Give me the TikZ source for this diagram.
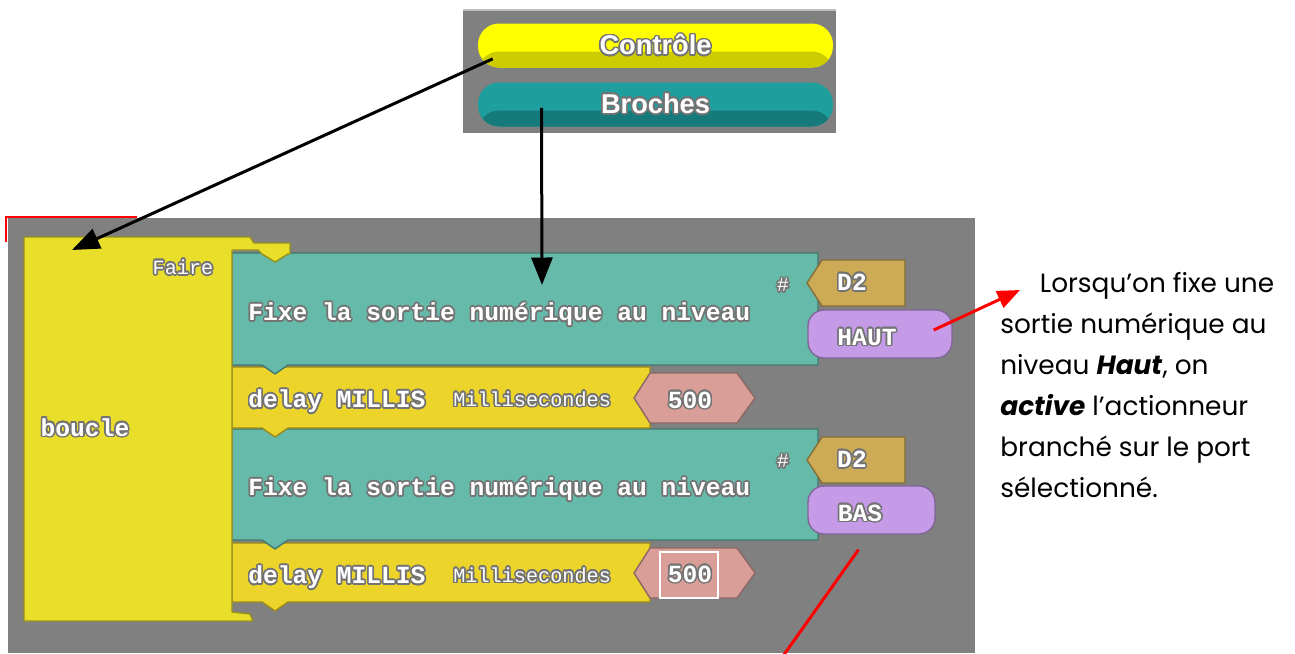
\documentclass[tikz,border=0pt]{standalone}
\usepackage{fontspec}
\usepackage{contour}
\usetikzlibrary{arrows.meta,calc}
\newfontfamily\blockfont{Liberation Mono}
\newfontfamily\palfont{Liberation Sans}
\newfontfamily\notefont{Poppins}
\contourlength{0.9pt}
\newcommand{\blktxt}[1]{\contour{black!55}{#1}}
\definecolor{wsgray}{RGB}{128,128,128}
\definecolor{ctrlyel}{RGB}{255,255,0}
\definecolor{ctrlyeldk}{RGB}{204,204,0}
\definecolor{pinteal}{RGB}{31,158,158}
\definecolor{pintealdk}{RGB}{23,122,122}
\definecolor{loopyel}{RGB}{233,223,43}
\definecolor{delayyel}{RGB}{236,212,42}
\definecolor{setteal}{RGB}{102,186,170}
\definecolor{pinbrown}{RGB}{205,170,86}
\definecolor{lvlpurple}{RGB}{197,155,232}
\definecolor{numpink}{RGB}{217,158,152}

\begin{document}
\begin{tikzpicture}[x=0.02cm,y=-0.02cm,
  blk/.style={fill=#1, draw=#1!65!black, line width=0.8pt, line join=round},
  pill/.style={minimum width=7.1cm, minimum height=0.88cm, rounded corners=0.42cm, inner sep=0pt, text=white,
    font=\palfont\bfseries\fontsize{15.5}{15.5}\selectfont,
    path picture={\fill[#1] ([yshift=-0.12cm]path picture bounding box.west) rectangle (path picture bounding box.south east);}},
  lvl/.style={blk=lvlpurple, rounded corners=0.32cm, minimum height=0.96cm, inner sep=0pt},
  lbl/.style={inner sep=0pt, text=white, font=\blockfont\bfseries\fontsize{14}{14}\selectfont},
  smalllbl/.style={inner sep=0pt, text=white, font=\blockfont\fontsize{11.5}{11.5}\selectfont},
  blkarrow/.style={-{Triangle[length=0.55cm,width=0.42cm]}, line width=0.06cm},
  redline/.style={red, line width=0.06cm},
  note/.style={inner sep=0pt, align=left, font=\notefont\fontsize{15}{23.3}\selectfont}]
  \useasboundingbox (0,0) rectangle (1295,653);
  \fill[white] (0,0) rectangle (1295,653);
  % palette
  \fill[wsgray] (463,10) rectangle (836,133);
  \draw[black!25, line width=0.6pt] (463,10) -- (836,10);
  \node[pill=ctrlyeldk, fill=ctrlyel] (controle) at (655.5,45.5) {\blktxt{Contrôle}};
  \node[pill=pintealdk, fill=pinteal] (broches) at (655.5,104.5) {\blktxt{Broches}};
  % workspace
  \fill[wsgray] (8,218) rectangle (975,653);
  \draw[red, line width=0.04cm] (6,242) -- (6,217) -- (137,217);
  \filldraw[blk=delayyel] (232,543) -- (650,543) -- (650,602) -- (288,602) -- (275,611) -- (262,602) -- (232,602) -- cycle;
  \filldraw[blk=numpink] (650,548) -- (737,548) -- (755,573) -- (737,598) -- (650,598) -- (634,573) -- cycle;
  \draw[white, line width=0.8pt] (660,552) rectangle (718,598);
  \filldraw[blk=setteal] (232,429) -- (818,429) -- (818,540) -- (288,540) -- (275,549) -- (262,540) -- (232,540) -- cycle;
  \filldraw[blk=pinbrown] (822,437) -- (905,437) -- (905,483) -- (822,483) -- (807,460) -- cycle;
  \node[lvl, minimum width=2.54cm] (baspill) at (871.5,510) {};
  \filldraw[blk=delayyel] (232,367) -- (650,367) -- (650,428) -- (288,428) -- (275,437) -- (262,428) -- (232,428) -- cycle;
  \filldraw[blk=numpink] (650,373) -- (737,373) -- (755,398) -- (737,423) -- (650,423) -- (634,398) -- cycle;
  \filldraw[blk=setteal] (232,253) -- (818,253) -- (818,365) -- (288,365) -- (275,374) -- (262,365) -- (232,365) -- cycle;
  \filldraw[blk=pinbrown] (822,260) -- (905,260) -- (905,306) -- (822,306) -- (807,283) -- cycle;
  \node[lvl, minimum width=2.88cm] (hautpill) at (880,334) {};
  \filldraw[blk=loopyel] (24,237) -- (250,237) -- (254,243) -- (290,243) -- (290,254) -- (288,254) -- (275,262) -- (262,254)
    -- (258,250) -- (232,250) -- (232,612) -- (250,614) -- (253,621) -- (24,621) -- cycle;
  % block texts
  \node[smalllbl] (faire) at (183,268) {\blktxt{Faire}};
  \node[lbl] (boucle) at (85,428) {\blktxt{boucle}};
  \node[lbl, anchor=west] (fixehaut) at (248,315) {\blktxt{Fixe la sortie numérique au niveau}};
  \node[smalllbl] (diesehaut) at (783,286) {\blktxt{\#}};
  \node[lbl] (pinhaut) at (852,283) {\blktxt{D2}};
  \node[lbl] (haut) at (867,338) {\blktxt{HAUT}};
  \node[lbl, anchor=west] (delayhaut) at (248,402) {\blktxt{delay MILLIS}};
  \node[smalllbl, anchor=west] (mshaut) at (453,400) {\blktxt{Millisecondes}};
  \node[lbl] (numhaut) at (690,401) {\blktxt{500}};
  \node[lbl, anchor=west] (fixebas) at (248,490) {\blktxt{Fixe la sortie numérique au niveau}};
  \node[smalllbl] (diesebas) at (783,462) {\blktxt{\#}};
  \node[lbl] (pinbas) at (852,460) {\blktxt{D2}};
  \node[lbl] (bas) at (860,514) {\blktxt{BAS}};
  \node[lbl, anchor=west] (delaybas) at (248,578) {\blktxt{delay MILLIS}};
  \node[smalllbl, anchor=west] (msbas) at (453,576) {\blktxt{Millisecondes}};
  \node[lbl] (numbas) at (690,575) {\blktxt{500}};
  % note
  \node[note, anchor=north west] (note) at (1000,272) {\hspace*{1.5em}Lorsqu’on fixe une\\sortie numérique au\\niveau \textbf{\textit{Haut}}, on\\\textbf{\textit{active}} l’actionneur\\branché sur le port\\sélectionné.};
  % arrows
  \coordinate (bouclein) at (72,250);
  \coordinate (fixein) at (542,285);
  \coordinate (redfoot) at (783,656);
  \draw[blkarrow] ($(controle.south west)+(15,-9)$) -- (bouclein);
  \draw[blkarrow] ($(broches.south)+(-114,-19)$) -- (fixein);
  \draw[redline, -{Triangle[length=0.45cm,width=0.36cm]}] ($(hautpill.east)+(-19,-4)$) -- ($(note.north west)+(20,18)$);
  \draw[redline] ($(baspill.south)+(-13,15)$) -- (redfoot);
\end{tikzpicture}
\end{document}
